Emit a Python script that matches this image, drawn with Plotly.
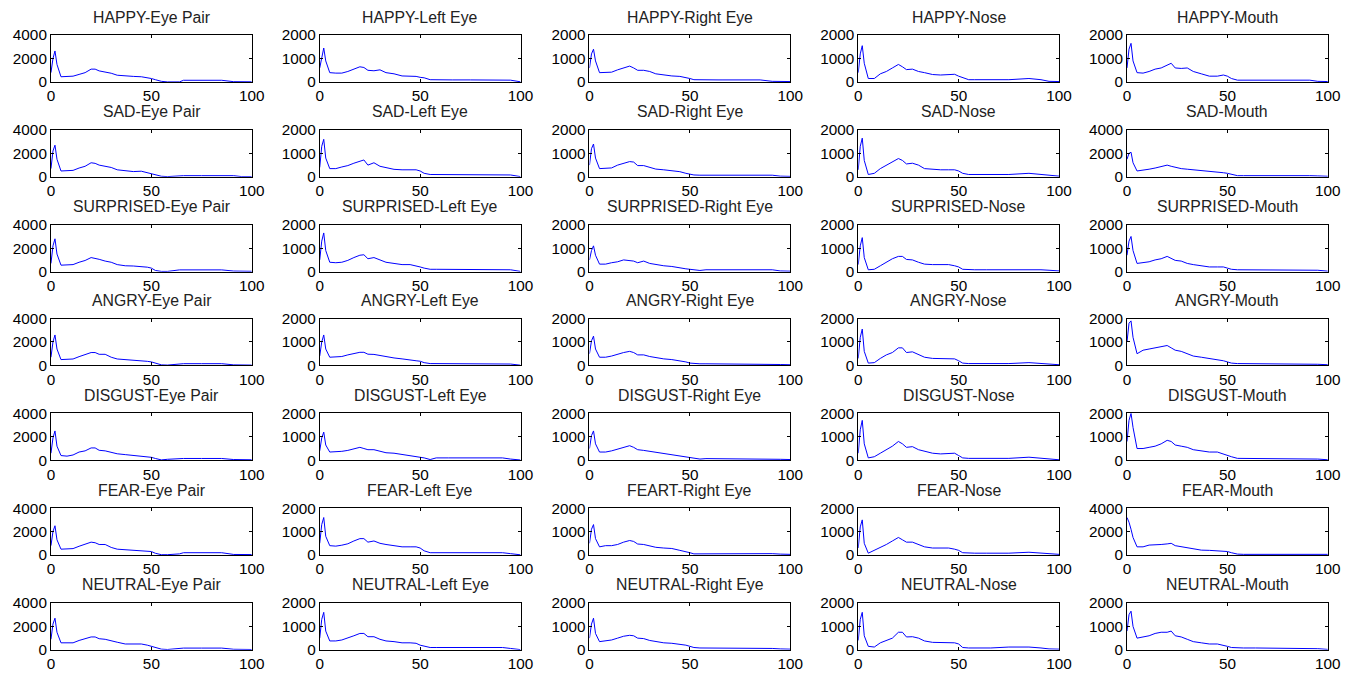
import plotly.graph_objects as go

# Shared sample positions (x) for every curve
x_pos = [0, 1, 2, 3, 5, 8, 11, 14, 17, 20, 22, 24, 27, 30, 33, 37, 41, 45, 48, 50,
         52, 55, 58, 64, 66, 75, 85, 91, 95, 100]

emotions = ["HAPPY", "SAD", "SURPRISED", "ANGRY", "DISGUST", "FEAR", "NEUTRAL"]
regions = ["Eye Pair", "Left Eye", "Right Eye", "Nose", "Mouth"]

# HAPPY
happy_eye_pair = [800, 2000, 2650, 1500, 450, 450, 500, 650, 800, 1100, 1100, 950, 850, 750, 580, 500, 480, 450, 380, 300, 200, 60, 10, 10, 150, 150, 150, 30, 20, 20]
happy_left_eye = [600, 1100, 1450, 900, 400, 380, 380, 450, 550, 650, 620, 500, 480, 520, 400, 350, 260, 250, 240, 200, 180, 100, 90, 90, 90, 90, 90, 90, 80, 10]
happy_right_eye = [600, 1200, 1400, 900, 400, 400, 420, 520, 600, 680, 600, 500, 500, 450, 350, 300, 260, 240, 200, 150, 100, 90, 90, 90, 90, 90, 90, 30, 20, 20]
happy_nose = [400, 1200, 1550, 800, 150, 150, 350, 450, 600, 750, 650, 530, 550, 450, 400, 320, 300, 300, 330, 250, 200, 100, 100, 100, 100, 100, 150, 100, 30, 20]
happy_mouth = [600, 1400, 1650, 900, 400, 380, 450, 550, 600, 700, 800, 600, 580, 600, 450, 350, 250, 250, 300, 250, 150, 80, 80, 80, 80, 80, 80, 80, 30, 20]

# SAD
sad_eye_pair = [700, 2200, 2700, 1500, 500, 500, 550, 750, 900, 1200, 1150, 1000, 900, 800, 600, 500, 450, 480, 350, 300, 180, 50, 20, 100, 100, 100, 100, 100, 20, 20]
sad_left_eye = [400, 1300, 1600, 800, 350, 350, 420, 480, 580, 650, 720, 500, 600, 450, 400, 320, 300, 300, 300, 250, 150, 100, 100, 100, 100, 100, 100, 100, 80, 10]
sad_right_eye = [500, 1200, 1400, 800, 350, 350, 380, 500, 580, 650, 630, 480, 480, 400, 330, 300, 250, 220, 150, 120, 80, 70, 70, 70, 70, 70, 70, 70, 30, 20]
sad_nose = [300, 1300, 1650, 700, 100, 150, 350, 500, 650, 780, 700, 550, 580, 500, 350, 320, 300, 300, 300, 250, 150, 100, 100, 100, 100, 100, 150, 100, 60, 30]
sad_mouth = [1500, 2000, 2100, 1200, 500, 550, 650, 750, 850, 1000, 900, 800, 700, 650, 600, 550, 500, 450, 350, 300, 200, 100, 100, 100, 100, 100, 150, 100, 80, 50]

# SURPRISED
surprised_eye_pair = [700, 2200, 2800, 1500, 550, 550, 600, 800, 950, 1200, 1150, 1050, 900, 800, 600, 500, 480, 450, 380, 300, 100, 20, 20, 150, 150, 150, 150, 50, 30, 30]
surprised_left_eye = [500, 1300, 1650, 900, 400, 380, 400, 480, 600, 700, 720, 550, 600, 500, 400, 350, 300, 300, 250, 200, 150, 100, 100, 100, 100, 100, 100, 100, 80, 10]
surprised_right_eye = [500, 900, 1100, 700, 320, 320, 380, 420, 500, 480, 450, 380, 450, 350, 300, 250, 220, 150, 120, 100, 80, 50, 80, 80, 80, 80, 50, 80, 30, 20]
surprised_nose = [300, 1100, 1450, 600, 80, 100, 250, 400, 550, 650, 650, 520, 500, 400, 320, 300, 300, 300, 250, 200, 100, 80, 80, 80, 80, 80, 100, 80, 60, 30]
surprised_mouth = [700, 1300, 1500, 900, 350, 380, 420, 500, 550, 650, 550, 480, 450, 350, 300, 250, 200, 200, 200, 150, 100, 80, 80, 80, 80, 80, 80, 80, 60, 20]

# ANGRY
angry_eye_pair = [700, 2000, 2600, 1400, 500, 500, 550, 750, 900, 1100, 1100, 950, 950, 700, 550, 500, 450, 450, 350, 300, 200, 50, 30, 150, 150, 150, 150, 50, 30, 30]
angry_left_eye = [400, 1000, 1300, 700, 350, 350, 380, 450, 500, 560, 560, 480, 470, 420, 370, 320, 280, 250, 200, 180, 120, 80, 80, 80, 80, 80, 80, 80, 60, 10]
angry_right_eye = [500, 1050, 1250, 700, 350, 350, 400, 480, 550, 600, 550, 450, 450, 380, 330, 280, 250, 200, 150, 100, 80, 70, 70, 70, 70, 70, 70, 50, 40, 30]
angry_nose = [300, 1200, 1550, 600, 100, 120, 300, 450, 550, 750, 750, 550, 580, 450, 350, 300, 300, 300, 280, 200, 100, 80, 80, 80, 80, 80, 120, 80, 50, 30]
angry_mouth = [1000, 1800, 1900, 1200, 500, 650, 700, 750, 800, 850, 750, 650, 600, 500, 400, 350, 300, 250, 200, 150, 100, 80, 80, 80, 80, 80, 80, 80, 50, 30]

# DISGUST
disgust_eye_pair = [600, 1900, 2500, 1200, 400, 350, 450, 700, 800, 1050, 1050, 850, 800, 650, 550, 480, 420, 350, 300, 250, 150, 30, 80, 150, 150, 150, 150, 60, 40, 40]
disgust_left_eye = [400, 950, 1200, 650, 350, 350, 380, 420, 500, 550, 500, 450, 450, 380, 320, 300, 250, 200, 180, 150, 100, 30, 100, 100, 100, 100, 100, 100, 50, 10]
disgust_right_eye = [500, 1050, 1250, 700, 350, 350, 400, 480, 550, 620, 550, 450, 420, 380, 330, 280, 250, 200, 150, 120, 80, 50, 70, 70, 70, 70, 70, 60, 40, 30]
disgust_nose = [300, 1300, 1700, 700, 100, 150, 300, 450, 600, 800, 700, 550, 580, 450, 380, 300, 270, 270, 300, 200, 100, 80, 80, 80, 80, 80, 130, 80, 50, 20]
disgust_mouth = [800, 1700, 2000, 1400, 500, 500, 550, 600, 700, 850, 800, 650, 600, 550, 450, 400, 350, 350, 250, 200, 150, 80, 80, 80, 80, 80, 80, 80, 50, 20]

# FEAR
fear_eye_pair = [800, 2000, 2500, 1300, 500, 500, 550, 750, 900, 1100, 1050, 900, 900, 650, 500, 450, 450, 400, 300, 300, 150, 30, 30, 100, 200, 200, 200, 50, 40, 40]
fear_left_eye = [500, 1300, 1600, 800, 400, 380, 420, 480, 600, 700, 700, 550, 600, 500, 450, 400, 350, 350, 350, 300, 180, 100, 100, 100, 100, 100, 100, 100, 60, 10]
fear_right_eye = [500, 1100, 1300, 700, 350, 400, 400, 450, 550, 620, 580, 470, 450, 380, 330, 300, 280, 200, 150, 100, 50, 50, 80, 80, 80, 80, 80, 60, 40, 30]
fear_nose = [300, 1200, 1500, 500, 80, 200, 350, 450, 600, 750, 650, 550, 550, 450, 350, 300, 300, 300, 250, 200, 100, 80, 80, 80, 80, 80, 120, 80, 40, 30]
fear_mouth = [3200, 2800, 2200, 1500, 700, 700, 850, 850, 900, 950, 1000, 800, 700, 600, 500, 420, 400, 350, 300, 300, 200, 80, 60, 60, 60, 60, 60, 60, 60, 60]

# NEUTRAL
neutral_eye_pair = [900, 2200, 2700, 1500, 600, 600, 600, 800, 950, 1100, 1100, 950, 900, 800, 650, 500, 500, 500, 400, 300, 250, 60, 30, 150, 150, 150, 150, 50, 30, 30]
neutral_left_eye = [500, 1300, 1600, 800, 380, 380, 420, 500, 600, 700, 700, 560, 560, 450, 380, 350, 300, 300, 280, 200, 150, 100, 100, 100, 100, 100, 100, 100, 60, 10]
neutral_right_eye = [500, 1100, 1350, 700, 350, 380, 420, 500, 580, 620, 600, 500, 480, 400, 350, 300, 280, 250, 200, 150, 100, 80, 80, 80, 80, 80, 80, 60, 40, 30]
neutral_nose = [400, 1300, 1600, 600, 150, 120, 300, 400, 500, 750, 750, 550, 560, 500, 380, 320, 320, 300, 300, 250, 100, 80, 80, 80, 80, 120, 120, 80, 40, 30]
neutral_mouth = [800, 1500, 1650, 1000, 500, 550, 600, 700, 750, 750, 800, 600, 550, 450, 350, 300, 250, 250, 200, 150, 100, 80, 80, 80, 80, 80, 80, 80, 50, 20]

# Upper y-limit per panel (4000 for eye pairs and two mouth panels)
ymax_rows = [
    [4000, 2000, 2000, 2000, 2000],
    [4000, 2000, 2000, 2000, 4000],
    [4000, 2000, 2000, 2000, 2000],
    [4000, 2000, 2000, 2000, 2000],
    [4000, 2000, 2000, 2000, 2000],
    [4000, 2000, 2000, 2000, 4000],
    [4000, 2000, 2000, 2000, 2000],
]

panel_titles = [
    [f"{e}-{r}" for r in regions] for e in emotions
]
panel_titles[5][2] = "FEART-Right Eye"

series_rows = [
    [happy_eye_pair, happy_left_eye, happy_right_eye, happy_nose, happy_mouth],
    [sad_eye_pair, sad_left_eye, sad_right_eye, sad_nose, sad_mouth],
    [surprised_eye_pair, surprised_left_eye, surprised_right_eye, surprised_nose, surprised_mouth],
    [angry_eye_pair, angry_left_eye, angry_right_eye, angry_nose, angry_mouth],
    [disgust_eye_pair, disgust_left_eye, disgust_right_eye, disgust_nose, disgust_mouth],
    [fear_eye_pair, fear_left_eye, fear_right_eye, fear_nose, fear_mouth],
    [neutral_eye_pair, neutral_left_eye, neutral_right_eye, neutral_nose, neutral_mouth],
]

# Page geometry: the figure sits inside the page's body margin and the page
# is shown slightly reduced; screen positions are mapped into figure pixels.
W, H = 1356, 675
SX = W / (W + 16)
SY = H / (H + 16)
OFFSET_X = 3.0
OFFSET_Y = 8.0 * SY


def fx(px):
    return (px - OFFSET_X) / SX


def fy(py):
    return (py - OFFSET_Y) / SY


# Panel frames in screen pixels
col_left = [50, 319, 589, 858, 1127]
col_width = 201
row_top = [34, 129, 224, 318, 413, 508, 603]
row_height = 47

FONT = "Liberation Sans, Arial, sans-serif"

fig = go.Figure()
layout = dict(
    width=W, height=H,
    margin=dict(l=0, r=0, t=0, b=0),
    paper_bgcolor="white", plot_bgcolor="white",
    showlegend=False,
    font=dict(family=FONT, size=15, color="black"),
)
annotations = []

for r in range(7):
    for c in range(5):
        k = r * 5 + c + 1
        xa = "xaxis" if k == 1 else f"xaxis{k}"
        ya = "yaxis" if k == 1 else f"yaxis{k}"
        xref = "x" if k == 1 else f"x{k}"
        yref = "y" if k == 1 else f"y{k}"
        x0 = fx(col_left[c]) / W
        x1 = fx(col_left[c] + col_width) / W
        y1 = 1 - fy(row_top[r]) / H
        y0 = 1 - fy(row_top[r] + row_height) / H
        ymax = ymax_rows[r][c]

        fig.add_trace(go.Scatter(
            x=x_pos, y=series_rows[r][c], mode="lines",
            line=dict(color="#0000ff", width=1),
            xaxis=xref, yaxis=yref, hoverinfo="skip",
        ))

        common = dict(
            showline=True, linecolor="black", linewidth=1, mirror="allticks",
            ticks="inside", ticklen=3, tickcolor="black", tickwidth=1,
            showgrid=False, zeroline=False, fixedrange=True,
            tickfont=dict(family=FONT, size=15.3, color="black"),
        )
        layout[xa] = dict(
            domain=[x0, x1], anchor=yref, range=[0, 100],
            tickvals=[0, 50, 100], ticktext=["0", "50", "100"], **common,
        )
        layout[ya] = dict(
            domain=[y0, y1], anchor=xref, range=[0, ymax],
            tickvals=[0, ymax / 2, ymax],
            ticktext=["0", str(int(ymax / 2)), str(ymax)], **common,
        )
        annotations.append(dict(
            text=panel_titles[r][c], xref="paper", yref="paper",
            x=(x0 + x1) / 2, y=1 - fy(row_top[r] - 18) / H,
            xanchor="center", yanchor="middle", showarrow=False,
            font=dict(family=FONT, size=15.8, color="#222222"),
        ))

layout["annotations"] = annotations
fig.update_layout(**layout)
fig.write_html("out.html")
